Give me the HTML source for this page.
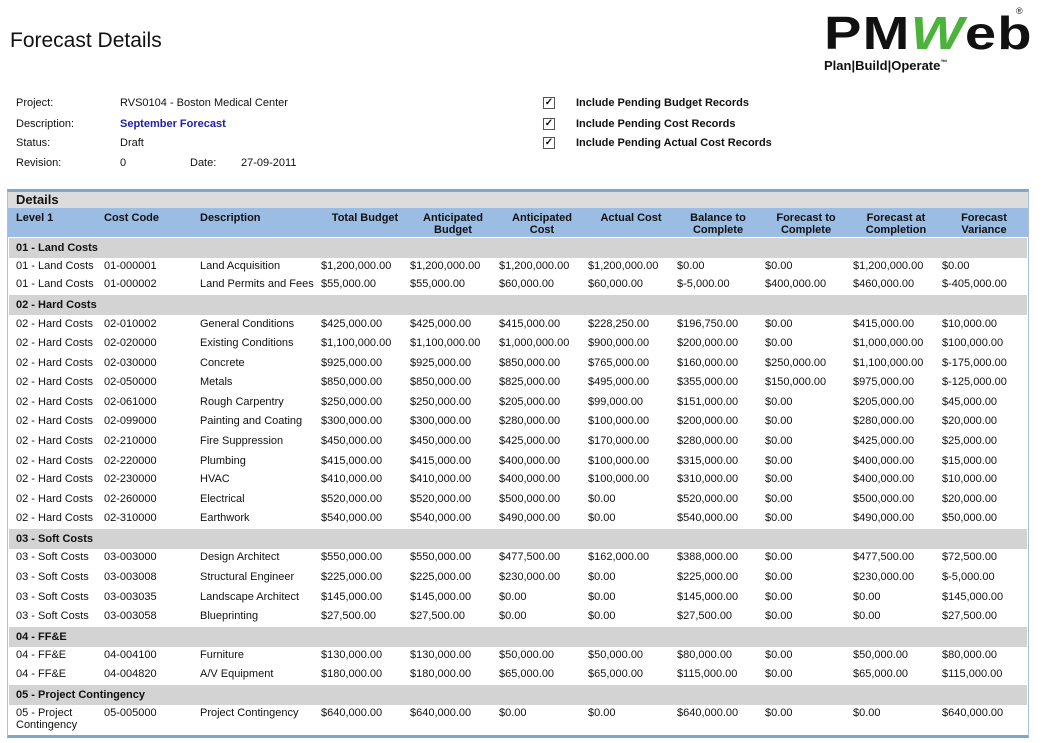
<!DOCTYPE html>
<html><head><meta charset="utf-8"><style>
body{margin:0;width:1049px;height:743px;background:#fff;position:relative;overflow:hidden;font-family:"Liberation Sans",Arial,sans-serif;font-size:11px;color:#111}
.a{position:absolute;white-space:nowrap}
.r{position:absolute;left:0;width:1049px;height:14px;line-height:14px;margin-top:1px}
.r span{position:absolute;top:0;white-space:nowrap}
.c1{left:16px}.c2{left:104px}.c3{left:200px}.c4{left:321px}.c5{left:410px}.c6{left:499px}.c7{left:588px}.c8{left:677px}.c9{left:765px}.c10{left:853px}.c11{left:942px}
.g{position:absolute;left:9px;width:1018px;height:20px;background:#d3d3d3;font-weight:bold;line-height:20px;padding-left:7px;box-sizing:border-box}
.h{position:absolute;text-align:center;font-weight:bold;line-height:12px;top:212px}
.cb{position:absolute;left:543px;width:10px;height:10px;border:1px solid #555;font-size:10px;line-height:10px;text-align:center;font-weight:bold}
.i{margin-top:1px}
</style></head><body>
<div class="a" style="left:10px;top:29px;font-size:21px;color:#111">Forecast Details</div>
<div class="a" style="left:824px;top:8px;font-size:46px;font-weight:900;letter-spacing:1px;color:#111;line-height:50px;transform:scaleX(1.22);transform-origin:left top">PM<span style="color:#4cb33a;font-style:italic">W</span>eb</div>
<div class="a" style="left:1016px;top:6px;font-size:9px">®</div>
<div class="a" style="left:824px;top:58px;font-size:13px;font-weight:bold;color:#111">Plan|Build|Operate<sup style="font-size:7px">™</sup></div>

<div class="a i" style="left:16px;top:96px">Project:</div>
<div class="a i" style="left:120px;top:96px">RVS0104 - Boston Medical Center</div>
<div class="a i" style="left:16px;top:117px">Description:</div>
<div class="a i" style="left:120px;top:117px;color:#2020b0;font-weight:bold">September Forecast</div>
<div class="a i" style="left:16px;top:136px">Status:</div>
<div class="a i" style="left:120px;top:136px">Draft</div>
<div class="a i" style="left:16px;top:156px">Revision:</div>
<div class="a i" style="left:120px;top:156px">0</div>
<div class="a i" style="left:190px;top:156px">Date:</div>
<div class="a i" style="left:241px;top:156px">27-09-2011</div>
<div class="cb" style="top:97px">✓</div><div class="a i" style="left:576px;top:96px;font-weight:bold">Include Pending Budget Records</div>
<div class="cb" style="top:118px">✓</div><div class="a i" style="left:576px;top:117px;font-weight:bold">Include Pending Cost Records</div>
<div class="cb" style="top:137px">✓</div><div class="a i" style="left:576px;top:136px;font-weight:bold">Include Pending Actual Cost Records</div>

<div class="a" style="left:7px;top:189px;width:1020px;height:543px;border:1px solid #a8c0da;border-top:3px solid #7fa6cf;border-bottom:3px solid #7fa6cf"></div>
<div class="a" style="left:8px;top:192px;width:1020px;height:16px;background:#dcdcdc;font-weight:bold;font-size:13px;line-height:16px;padding-left:8px;box-sizing:border-box">Details</div>
<div class="a" style="left:8px;top:208px;width:1020px;height:29px;background:#9bbde3"></div>
<div class="h" style="left:16px;text-align:left">Level 1</div>
<div class="h" style="left:104px;text-align:left">Cost Code</div>
<div class="h" style="left:200px;text-align:left">Description</div>
<div class="h" style="left:325px;width:80px">Total Budget</div>
<div class="h" style="left:413px;width:80px">Anticipated<br>Budget</div>
<div class="h" style="left:502px;width:80px">Anticipated<br>Cost</div>
<div class="h" style="left:591px;width:80px">Actual Cost</div>
<div class="h" style="left:678px;width:80px">Balance to<br>Complete</div>
<div class="h" style="left:766px;width:80px">Forecast to<br>Complete</div>
<div class="h" style="left:856px;width:80px">Forecast at<br>Completion</div>
<div class="h" style="left:944px;width:80px">Forecast<br>Variance</div>

<div class="g" style="top:238px">01 - Land Costs</div>
<div class="r" style="top:258px"><span class="c1">01 - Land Costs</span><span class="c2">01-000001</span><span class="c3">Land Acquisition</span><span class="c4">$1,200,000.00</span><span class="c5">$1,200,000.00</span><span class="c6">$1,200,000.00</span><span class="c7">$1,200,000.00</span><span class="c8">$0.00</span><span class="c9">$0.00</span><span class="c10">$1,200,000.00</span><span class="c11">$0.00</span></div>
<div class="r" style="top:276px"><span class="c1">01 - Land Costs</span><span class="c2">01-000002</span><span class="c3">Land Permits and Fees</span><span class="c4">$55,000.00</span><span class="c5">$55,000.00</span><span class="c6">$60,000.00</span><span class="c7">$60,000.00</span><span class="c8">$-5,000.00</span><span class="c9">$400,000.00</span><span class="c10">$460,000.00</span><span class="c11">$-405,000.00</span></div>

<div class="g" style="top:295px">02 - Hard Costs</div>
<div class="r" style="top:316px"><span class="c1">02 - Hard Costs</span><span class="c2">02-010002</span><span class="c3">General Conditions</span><span class="c4">$425,000.00</span><span class="c5">$425,000.00</span><span class="c6">$415,000.00</span><span class="c7">$228,250.00</span><span class="c8">$196,750.00</span><span class="c9">$0.00</span><span class="c10">$415,000.00</span><span class="c11">$10,000.00</span></div>
<div class="r" style="top:335px"><span class="c1">02 - Hard Costs</span><span class="c2">02-020000</span><span class="c3">Existing Conditions</span><span class="c4">$1,100,000.00</span><span class="c5">$1,100,000.00</span><span class="c6">$1,000,000.00</span><span class="c7">$900,000.00</span><span class="c8">$200,000.00</span><span class="c9">$0.00</span><span class="c10">$1,000,000.00</span><span class="c11">$100,000.00</span></div>
<div class="r" style="top:355px"><span class="c1">02 - Hard Costs</span><span class="c2">02-030000</span><span class="c3">Concrete</span><span class="c4">$925,000.00</span><span class="c5">$925,000.00</span><span class="c6">$850,000.00</span><span class="c7">$765,000.00</span><span class="c8">$160,000.00</span><span class="c9">$250,000.00</span><span class="c10">$1,100,000.00</span><span class="c11">$-175,000.00</span></div>
<div class="r" style="top:374px"><span class="c1">02 - Hard Costs</span><span class="c2">02-050000</span><span class="c3">Metals</span><span class="c4">$850,000.00</span><span class="c5">$850,000.00</span><span class="c6">$825,000.00</span><span class="c7">$495,000.00</span><span class="c8">$355,000.00</span><span class="c9">$150,000.00</span><span class="c10">$975,000.00</span><span class="c11">$-125,000.00</span></div>
<div class="r" style="top:394px"><span class="c1">02 - Hard Costs</span><span class="c2">02-061000</span><span class="c3">Rough Carpentry</span><span class="c4">$250,000.00</span><span class="c5">$250,000.00</span><span class="c6">$205,000.00</span><span class="c7">$99,000.00</span><span class="c8">$151,000.00</span><span class="c9">$0.00</span><span class="c10">$205,000.00</span><span class="c11">$45,000.00</span></div>
<div class="r" style="top:413px"><span class="c1">02 - Hard Costs</span><span class="c2">02-099000</span><span class="c3">Painting and Coating</span><span class="c4">$300,000.00</span><span class="c5">$300,000.00</span><span class="c6">$280,000.00</span><span class="c7">$100,000.00</span><span class="c8">$200,000.00</span><span class="c9">$0.00</span><span class="c10">$280,000.00</span><span class="c11">$20,000.00</span></div>
<div class="r" style="top:433px"><span class="c1">02 - Hard Costs</span><span class="c2">02-210000</span><span class="c3">Fire Suppression</span><span class="c4">$450,000.00</span><span class="c5">$450,000.00</span><span class="c6">$425,000.00</span><span class="c7">$170,000.00</span><span class="c8">$280,000.00</span><span class="c9">$0.00</span><span class="c10">$425,000.00</span><span class="c11">$25,000.00</span></div>
<div class="r" style="top:453px"><span class="c1">02 - Hard Costs</span><span class="c2">02-220000</span><span class="c3">Plumbing</span><span class="c4">$415,000.00</span><span class="c5">$415,000.00</span><span class="c6">$400,000.00</span><span class="c7">$100,000.00</span><span class="c8">$315,000.00</span><span class="c9">$0.00</span><span class="c10">$400,000.00</span><span class="c11">$15,000.00</span></div>
<div class="r" style="top:471px"><span class="c1">02 - Hard Costs</span><span class="c2">02-230000</span><span class="c3">HVAC</span><span class="c4">$410,000.00</span><span class="c5">$410,000.00</span><span class="c6">$400,000.00</span><span class="c7">$100,000.00</span><span class="c8">$310,000.00</span><span class="c9">$0.00</span><span class="c10">$400,000.00</span><span class="c11">$10,000.00</span></div>
<div class="r" style="top:491px"><span class="c1">02 - Hard Costs</span><span class="c2">02-260000</span><span class="c3">Electrical</span><span class="c4">$520,000.00</span><span class="c5">$520,000.00</span><span class="c6">$500,000.00</span><span class="c7">$0.00</span><span class="c8">$520,000.00</span><span class="c9">$0.00</span><span class="c10">$500,000.00</span><span class="c11">$20,000.00</span></div>
<div class="r" style="top:510px"><span class="c1">02 - Hard Costs</span><span class="c2">02-310000</span><span class="c3">Earthwork</span><span class="c4">$540,000.00</span><span class="c5">$540,000.00</span><span class="c6">$490,000.00</span><span class="c7">$0.00</span><span class="c8">$540,000.00</span><span class="c9">$0.00</span><span class="c10">$490,000.00</span><span class="c11">$50,000.00</span></div>

<div class="g" style="top:529px">03 - Soft Costs</div>
<div class="r" style="top:549px"><span class="c1">03 - Soft Costs</span><span class="c2">03-003000</span><span class="c3">Design Architect</span><span class="c4">$550,000.00</span><span class="c5">$550,000.00</span><span class="c6">$477,500.00</span><span class="c7">$162,000.00</span><span class="c8">$388,000.00</span><span class="c9">$0.00</span><span class="c10">$477,500.00</span><span class="c11">$72,500.00</span></div>
<div class="r" style="top:569px"><span class="c1">03 - Soft Costs</span><span class="c2">03-003008</span><span class="c3">Structural Engineer</span><span class="c4">$225,000.00</span><span class="c5">$225,000.00</span><span class="c6">$230,000.00</span><span class="c7">$0.00</span><span class="c8">$225,000.00</span><span class="c9">$0.00</span><span class="c10">$230,000.00</span><span class="c11">$-5,000.00</span></div>
<div class="r" style="top:589px"><span class="c1">03 - Soft Costs</span><span class="c2">03-003035</span><span class="c3">Landscape Architect</span><span class="c4">$145,000.00</span><span class="c5">$145,000.00</span><span class="c6">$0.00</span><span class="c7">$0.00</span><span class="c8">$145,000.00</span><span class="c9">$0.00</span><span class="c10">$0.00</span><span class="c11">$145,000.00</span></div>
<div class="r" style="top:608px"><span class="c1">03 - Soft Costs</span><span class="c2">03-003058</span><span class="c3">Blueprinting</span><span class="c4">$27,500.00</span><span class="c5">$27,500.00</span><span class="c6">$0.00</span><span class="c7">$0.00</span><span class="c8">$27,500.00</span><span class="c9">$0.00</span><span class="c10">$0.00</span><span class="c11">$27,500.00</span></div>

<div class="g" style="top:627px">04 - FF&amp;E</div>
<div class="r" style="top:647px"><span class="c1">04 - FF&amp;E</span><span class="c2">04-004100</span><span class="c3">Furniture</span><span class="c4">$130,000.00</span><span class="c5">$130,000.00</span><span class="c6">$50,000.00</span><span class="c7">$50,000.00</span><span class="c8">$80,000.00</span><span class="c9">$0.00</span><span class="c10">$50,000.00</span><span class="c11">$80,000.00</span></div>
<div class="r" style="top:666px"><span class="c1">04 - FF&amp;E</span><span class="c2">04-004820</span><span class="c3">A/V Equipment</span><span class="c4">$180,000.00</span><span class="c5">$180,000.00</span><span class="c6">$65,000.00</span><span class="c7">$65,000.00</span><span class="c8">$115,000.00</span><span class="c9">$0.00</span><span class="c10">$65,000.00</span><span class="c11">$115,000.00</span></div>

<div class="g" style="top:685px">05 - Project Contingency</div>
<div class="r" style="top:705px"><span class="c1">05 - Project</span><span class="c2">05-005000</span><span class="c3">Project Contingency</span><span class="c4">$640,000.00</span><span class="c5">$640,000.00</span><span class="c6">$0.00</span><span class="c7">$0.00</span><span class="c8">$640,000.00</span><span class="c9">$0.00</span><span class="c10">$0.00</span><span class="c11">$640,000.00</span></div>
<div class="r" style="top:717px"><span class="c1">Contingency</span></div>
</body></html>
